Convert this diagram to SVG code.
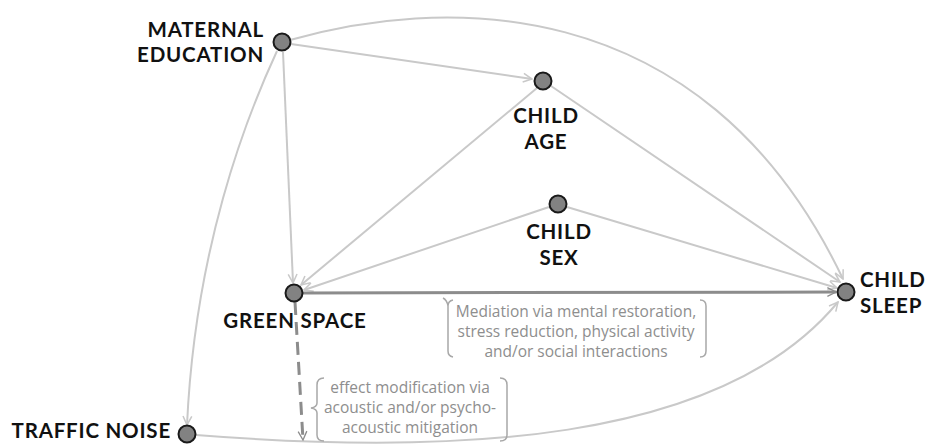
<svg xmlns="http://www.w3.org/2000/svg" width="925" height="444" viewBox="0 0 925 444">
<style>
.lbl{font-family:Lato,"Open Sans",sans-serif;font-weight:bold;font-size:20.5px;letter-spacing:0.8px;fill:#111;}
.ann{font-family:"Open Sans","DejaVu Sans",sans-serif;font-size:15.5px;fill:#8e8e8e;}
.node{fill:#828282;stroke:#1a1a1a;stroke-width:2;}
.e{fill:none;stroke:#c9c9c9;stroke-width:2;marker-end:url(#a);}
.main{fill:none;stroke:#8c8c8c;stroke-width:3;marker-end:url(#b);}
.br{fill:none;stroke:#a8a8a8;stroke-width:1.5;}
</style>
<defs>
<marker id="a" viewBox="0 0 10 10" refX="9" refY="5" markerWidth="5.5" markerHeight="5.5" orient="auto" markerUnits="strokeWidth">
<path d="M1,1 L9,5 L1,9" fill="none" stroke="#c9c9c9" stroke-width="1.4"/>
</marker>
<marker id="b" viewBox="0 0 10 10" refX="9" refY="5" markerWidth="3.6" markerHeight="3.6" orient="auto" markerUnits="strokeWidth">
<path d="M1,1 L9,5 L1,9" fill="none" stroke="#8c8c8c" stroke-width="1.2"/>
</marker>
</defs>
<g id="connectors">
<path class="e" d="M291,44 L532,79"/>
<path class="e" d="M290,40 C430,0 700,-20 843,279"/>
<path class="e" d="M283,52 L293,283"/>
<path class="e" d="M277,51 C245,120 195,250 187,425"/>
<path class="e" d="M537,88 L301,285"/>
<path class="e" d="M551,86 L840,282"/>
<path class="e" d="M549,207 L304,290"/>
<path class="e" d="M567,207 L837,288"/>
<path class="e" d="M196,435 C450,455 720,445 838,302"/>
<path class="main" d="M303,293 L836,292"/>
<path class="main" d="M295,302 L303,440" stroke-dasharray="13,7"/>
</g>
<g id="maternal-education">
<circle class="node" cx="282" cy="42" r="8.5"/>
<text class="lbl" x="264" y="37" text-anchor="end">MATERNAL</text>
<text class="lbl" x="264" y="62" text-anchor="end">EDUCATION</text>
</g>
<g id="child-age">
<circle class="node" cx="543" cy="81" r="8.5"/>
<text class="lbl" x="546" y="123" text-anchor="middle">CHILD</text>
<text class="lbl" x="546" y="149" text-anchor="middle">AGE</text>
</g>
<g id="child-sex">
<circle class="node" cx="558" cy="204" r="8.5"/>
<text class="lbl" x="559" y="239" text-anchor="middle">CHILD</text>
<text class="lbl" x="559" y="265" text-anchor="middle">SEX</text>
</g>
<g id="green-space">
<circle class="node" cx="294" cy="293" r="8.5"/>
<text class="lbl" x="295" y="328" text-anchor="middle">GREEN SPACE</text>
</g>
<g id="child-sleep">
<circle class="node" cx="846" cy="292" r="8.5"/>
<text class="lbl" x="860" y="287">CHILD</text>
<text class="lbl" x="860" y="313">SLEEP</text>
</g>
<g id="traffic-noise">
<circle class="node" cx="187" cy="434" r="8.5"/>
<text class="lbl" x="171" y="438" text-anchor="end">TRAFFIC NOISE</text>
</g>
<g id="mediation-note">
<path class="br" d="M453,300 Q448,301 448,306 L448,351 Q448,356 453,357 M448,306 Q447,300 443,298"/>
<path class="br" d="M700,300 Q706,300 706,306 L706,351 Q706,357 700,357"/>
<text class="ann" x="576" y="317" text-anchor="middle">Mediation via mental restoration,</text>
<text class="ann" x="576" y="337" text-anchor="middle">stress reduction, physical activity</text>
<text class="ann" x="576" y="357" text-anchor="middle">and/or social interactions</text>
</g>
<g id="modification-note">
<path class="br" d="M324,378 Q317,378 317,385 L317,403 Q317,407 311,408 Q317,409 317,413 L317,435 Q317,441 324,441"/>
<path class="br" d="M500,378 Q507,378 507,385 L507,435 Q507,441 500,441"/>
<text class="ann" x="410" y="393" text-anchor="middle">effect modification via</text>
<text class="ann" x="410" y="413" text-anchor="middle">acoustic and/or psycho-</text>
<text class="ann" x="410" y="433" text-anchor="middle">acoustic mitigation</text>
</g>
</svg>
